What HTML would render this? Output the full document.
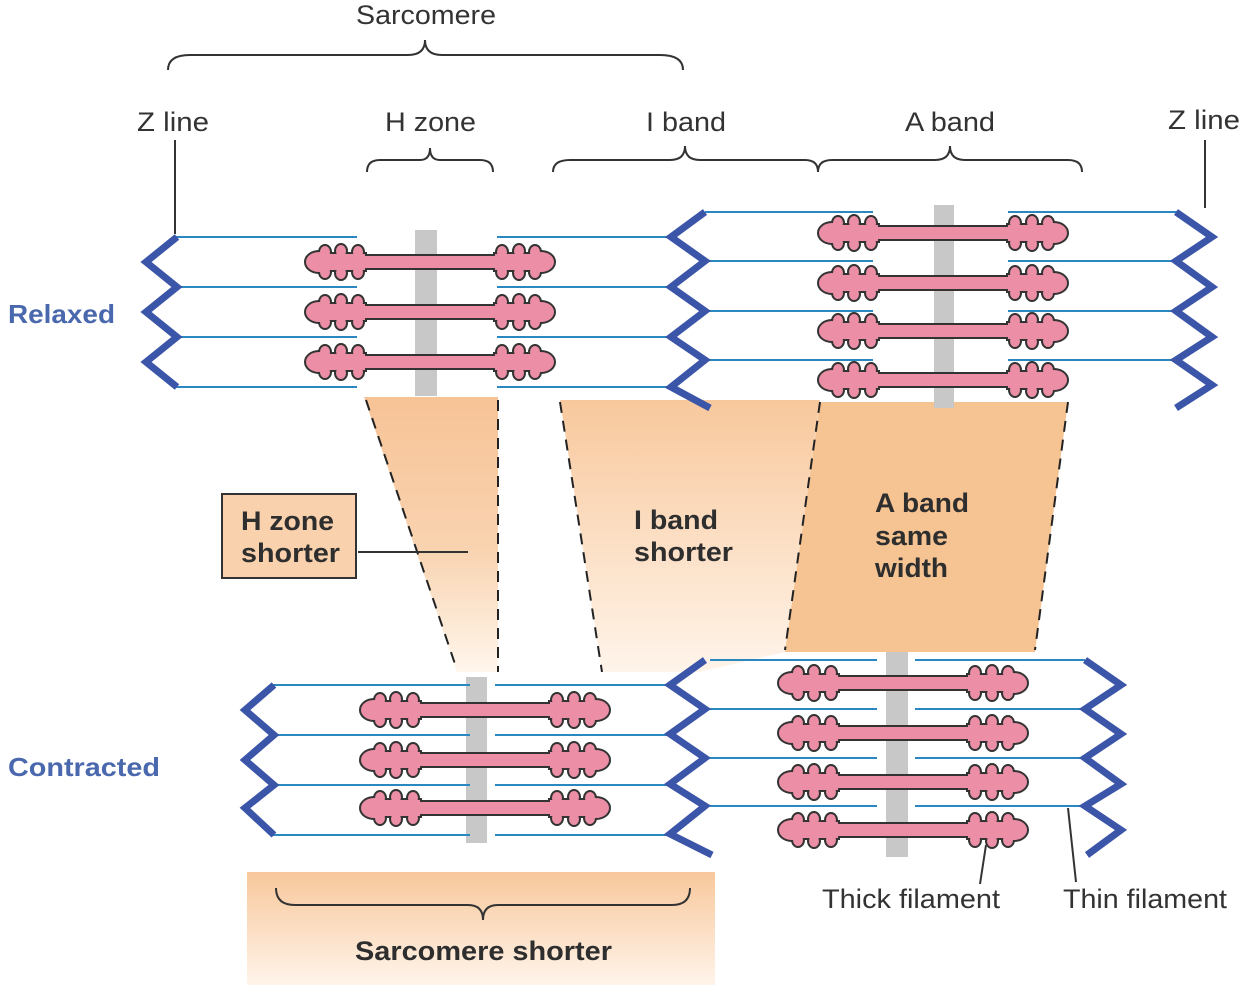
<!DOCTYPE html>
<html><head><meta charset="utf-8"><style>html,body{margin:0;padding:0;background:#fff}svg{display:block}</style></head>
<body>
<svg width="1252" height="993" viewBox="0 0 1252 993" xmlns="http://www.w3.org/2000/svg" font-family="Liberation Sans, sans-serif">
<defs>
<linearGradient id="fade" x1="0" y1="0" x2="0" y2="1">
<stop offset="0" stop-color="#f7c396"/><stop offset="0.55" stop-color="#f9d3b0"/><stop offset="1" stop-color="#fff6ec"/>
</linearGradient>
<linearGradient id="fade2" x1="0" y1="0" x2="0" y2="1">
<stop offset="0" stop-color="#f8c89c"/><stop offset="1" stop-color="#fff4ea"/>
</linearGradient>
<g id="shp">
<rect x="6" y="-6" width="238" height="12" rx="4"/>
<ellipse cx="14" cy="0" rx="13" ry="10"/>
<ellipse cx="236" cy="0" rx="13" ry="10"/>
<ellipse cx="20" cy="-10" rx="5" ry="6"/><ellipse cx="36" cy="-11" rx="5" ry="6"/><ellipse cx="53" cy="-10" rx="5" ry="6"/>
<ellipse cx="20" cy="10" rx="5" ry="6"/><ellipse cx="36" cy="11" rx="5" ry="6"/><ellipse cx="53" cy="10" rx="5" ry="6"/>
<ellipse cx="230" cy="-10" rx="5" ry="6"/><ellipse cx="214" cy="-11" rx="5" ry="6"/><ellipse cx="197" cy="-10" rx="5" ry="6"/>
<ellipse cx="230" cy="10" rx="5" ry="6"/><ellipse cx="214" cy="11" rx="5" ry="6"/><ellipse cx="197" cy="10" rx="5" ry="6"/>
<rect x="10" y="-8" width="50" height="16"/><rect x="190" y="-8" width="50" height="16"/>
</g>
<g id="tf">
<use href="#shp" fill="#333" stroke="#333" stroke-width="4"/>
<use href="#shp" fill="#ec8fa6"/>
</g>
</defs>

<polygon points="364,397 498,397 498,672 457,672" fill="url(#fade)"/>
<polygon points="560,400 820,400 785,652 700,672 602,672" fill="url(#fade2)"/>
<polygon points="820,402 1068,402 1035,652 785,652" fill="#f6c393"/>
<rect x="247" y="872" width="468" height="113" fill="url(#fade2)"/>
<g stroke="#222" stroke-width="2" stroke-dasharray="11,8" fill="none">
<line x1="366" y1="400" x2="457" y2="670"/>
<line x1="498" y1="400" x2="498" y2="672"/>
<line x1="560" y1="402" x2="602" y2="672"/>
<line x1="820" y1="402" x2="785" y2="650"/>
<line x1="1068" y1="402" x2="1035" y2="650"/>
</g>

<rect x="415" y="230" width="22" height="166" fill="#c8c8c8"/>
<rect x="934" y="205" width="20" height="203" fill="#c8c8c8"/>
<rect x="466" y="677" width="21" height="166" fill="#c8c8c8"/>
<rect x="886" y="652" width="22" height="205" fill="#c8c8c8"/>

<g stroke="#2b87c0" stroke-width="2">
<line x1="175" y1="237" x2="357" y2="237"/><line x1="175" y1="287" x2="357" y2="287"/><line x1="175" y1="337" x2="357" y2="337"/><line x1="175" y1="387" x2="357" y2="387"/>
<line x1="497" y1="237" x2="668" y2="237"/><line x1="497" y1="287" x2="668" y2="287"/><line x1="497" y1="337" x2="668" y2="337"/><line x1="497" y1="387" x2="668" y2="387"/>
<line x1="705" y1="212" x2="873" y2="212"/><line x1="705" y1="261" x2="873" y2="261"/><line x1="705" y1="311" x2="873" y2="311"/><line x1="705" y1="360" x2="873" y2="360"/>
<line x1="1008" y1="212" x2="1178" y2="212"/><line x1="1008" y1="261" x2="1178" y2="261"/><line x1="1008" y1="311" x2="1178" y2="311"/><line x1="1008" y1="360" x2="1178" y2="360"/>
<line x1="272" y1="685" x2="470" y2="685"/><line x1="272" y1="735" x2="470" y2="735"/><line x1="272" y1="785" x2="470" y2="785"/><line x1="272" y1="835" x2="470" y2="835"/>
<line x1="495" y1="685" x2="667" y2="685"/><line x1="495" y1="735" x2="667" y2="735"/><line x1="495" y1="785" x2="667" y2="785"/><line x1="495" y1="835" x2="667" y2="835"/>
<line x1="710" y1="660" x2="877" y2="660"/><line x1="710" y1="709" x2="877" y2="709"/><line x1="710" y1="758" x2="877" y2="758"/><line x1="710" y1="806" x2="877" y2="806"/>
<line x1="915" y1="660" x2="1085" y2="660"/><line x1="915" y1="709" x2="1085" y2="709"/><line x1="915" y1="758" x2="1085" y2="758"/><line x1="915" y1="806" x2="1085" y2="806"/>
</g>

<g stroke="#3b55a8" stroke-width="7" fill="none" stroke-linejoin="miter">
<polyline points="177,237 146,262 177,287 146,312 177,337 146,362 177,387"/>
<polyline points="705,212 671,237 705,261 671,287 705,311 671,337 705,360 671,387 710,408"/>
<polyline points="1176,212 1212,237 1176,261 1212,287 1176,311 1212,337 1176,360 1212,385 1176,408"/>
<polyline points="274,685 245,710 274,735 245,760 274,785 245,808 274,835"/>
<polyline points="705,660 670,685 705,709 670,734 705,758 670,784 705,806 670,834 712,855"/>
<polyline points="1085,660 1121,685 1085,709 1121,734 1085,758 1121,784 1085,806 1121,830 1087,855"/>
</g>

<use href="#tf" x="305" y="262"/><use href="#tf" x="305" y="312"/><use href="#tf" x="305" y="362"/>
<use href="#tf" x="818" y="233"/><use href="#tf" x="818" y="283"/><use href="#tf" x="818" y="331"/><use href="#tf" x="818" y="380"/>
<use href="#tf" x="360" y="710"/><use href="#tf" x="360" y="760"/><use href="#tf" x="360" y="808"/>
<use href="#tf" x="778" y="683"/><use href="#tf" x="778" y="733"/><use href="#tf" x="778" y="782"/><use href="#tf" x="778" y="830"/>

<g stroke="#333" stroke-width="2" fill="none">
<path d="M168,70 Q168,55 190,55 L408,55 Q425,55 425,40 Q425,55 442,55 L660,55 Q683,55 683,70"/>
<path d="M367,172 Q367,160 380,160 L420,160 Q430,160 430,148 Q430,160 440,160 L480,160 Q493,160 493,172"/>
<path d="M553,172 Q553,160 570,160 L670,160 Q685,160 685,146 Q685,160 700,160 L805,160 Q818,160 818,172 Q818,160 832,160 L935,160 Q950,160 950,146 Q950,160 965,160 L1068,160 Q1082,160 1082,172"/>
<path d="M276,888 Q276,905 295,905 L468,905 Q483,905 483,920 Q483,905 498,905 L672,905 Q690,905 690,888"/>
<line x1="175" y1="140" x2="175" y2="234"/>
<line x1="1205" y1="140" x2="1205" y2="208"/>
<line x1="358" y1="552" x2="468" y2="552"/>
<line x1="986" y1="845" x2="980" y2="884"/>
<line x1="1068" y1="808" x2="1076" y2="882"/>
</g>

<rect x="222" y="494" width="134" height="84" fill="#f9d1ad" stroke="#333" stroke-width="2"/>

<g fill="#333" font-size="27">
<text x="356" y="24" textLength="140" lengthAdjust="spacingAndGlyphs">Sarcomere</text>
<text x="137" y="131" textLength="72" lengthAdjust="spacingAndGlyphs">Z line</text>
<text x="385" y="131" textLength="91" lengthAdjust="spacingAndGlyphs">H zone</text>
<text x="646" y="131" textLength="80" lengthAdjust="spacingAndGlyphs">I band</text>
<text x="905" y="131" textLength="90" lengthAdjust="spacingAndGlyphs">A band</text>
<text x="1168" y="129" textLength="72" lengthAdjust="spacingAndGlyphs">Z line</text>
<text x="822" y="908" textLength="178" lengthAdjust="spacingAndGlyphs">Thick filament</text>
<text x="1063" y="908" textLength="164" lengthAdjust="spacingAndGlyphs">Thin filament</text>
</g>
<g fill="#2e2e2e" font-size="27" font-weight="bold">
<text x="241" y="530" textLength="93" lengthAdjust="spacingAndGlyphs">H zone</text>
<text x="241" y="562" textLength="99" lengthAdjust="spacingAndGlyphs">shorter</text>
<text x="634" y="529" textLength="84" lengthAdjust="spacingAndGlyphs">I band</text>
<text x="634" y="561" textLength="99" lengthAdjust="spacingAndGlyphs">shorter</text>
<text x="875" y="512" textLength="94" lengthAdjust="spacingAndGlyphs">A band</text>
<text x="875" y="545" textLength="73" lengthAdjust="spacingAndGlyphs">same</text>
<text x="875" y="577" textLength="73" lengthAdjust="spacingAndGlyphs">width</text>
<text x="355" y="960" textLength="257" lengthAdjust="spacingAndGlyphs">Sarcomere shorter</text>
</g>
<g fill="#4a68ad" font-size="26" font-weight="bold">
<text x="8" y="323" textLength="107" lengthAdjust="spacingAndGlyphs">Relaxed</text>
<text x="8" y="776" textLength="152" lengthAdjust="spacingAndGlyphs">Contracted</text>
</g>
</svg>
</body></html>
